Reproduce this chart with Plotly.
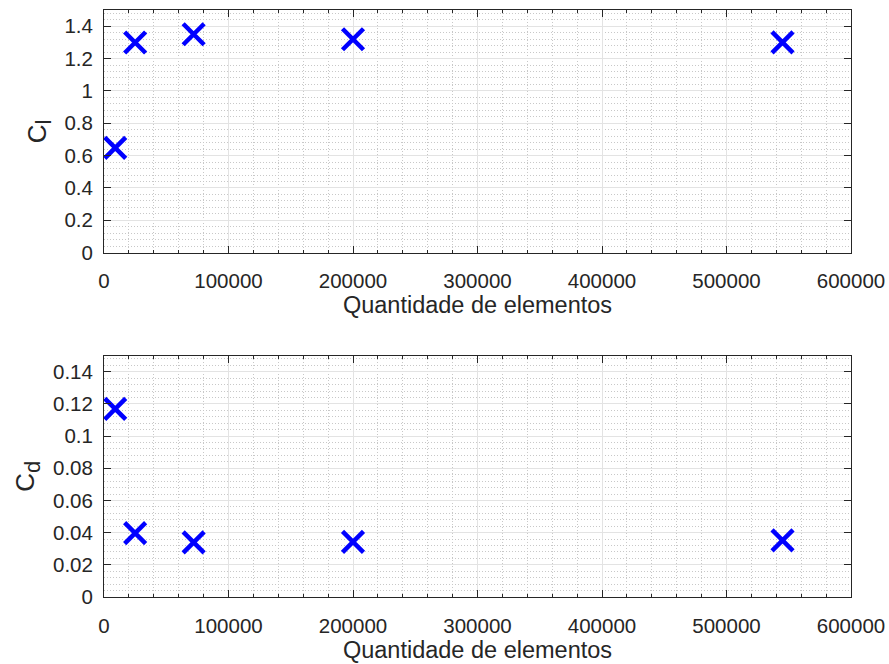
import plotly.graph_objects as go

elements = [9000, 25000, 72000, 200000, 545000]
cl_values = [0.648, 1.299, 1.35, 1.319, 1.30]
cd_values = [0.1169, 0.0397, 0.0340, 0.0343, 0.0352]

x_label = "Quantidade de elementos"
y_label_top = "C<sub><span style='font-size:22px'>l</span></sub>"
y_label_bot = "C<sub><span style='font-size:22px'>d</span></sub>"

FONT = "Liberation Sans, Arial, Helvetica, sans-serif"
AX = "#262626"
GRID = "#e3e3e3"
MINOR = "#c8c8c8"
BLUE = "#0000ff"

fig = go.Figure()
marker = dict(symbol="x-thin", size=21, color=BLUE, line=dict(color=BLUE, width=4.5))
fig.add_trace(go.Scatter(x=elements, y=cl_values, mode="markers", marker=marker,
                         xaxis="x", yaxis="y", showlegend=False))
fig.add_trace(go.Scatter(x=elements, y=cd_values, mode="markers", marker=marker,
                         xaxis="x2", yaxis="y2", showlegend=False))

def xaxis_def(anchor):
    return dict(
        anchor=anchor, domain=[0, 1], range=[0, 600000], dtick=100000, tick0=0,
        tickformat="d", ticks="inside", ticklen=7, tickcolor=AX, tickwidth=1,
        showline=True, linecolor=AX, linewidth=1, mirror="allticks",
        showgrid=True, gridcolor=GRID, gridwidth=1, zeroline=False,
        tickfont=dict(family=FONT, size=20.5, color=AX), ticklabelstandoff=10,
        title=dict(text=x_label, font=dict(family=FONT, size=23.5, color=AX), standoff=3),
        minor=dict(dtick=20000, tick0=0, ticks="inside", ticklen=3, tickcolor=AX,
                   showgrid=True, griddash="1px,2px", gridcolor=MINOR, gridwidth=1),
        automargin=False, fixedrange=True,
    )

def yaxis_def(anchor, domain, rng, dtick, minor_dtick, title):
    return dict(
        anchor=anchor, domain=domain, range=rng, dtick=dtick, tick0=0,
        ticks="inside", ticklen=7, tickcolor=AX, tickwidth=1,
        showline=True, linecolor=AX, linewidth=1, mirror="allticks",
        showgrid=True, gridcolor=GRID, gridwidth=1, zeroline=False,
        tickfont=dict(family=FONT, size=20.5, color=AX), ticklabelstandoff=6,
        title=dict(text=title, font=dict(family=FONT, size=26, color=AX), standoff=10),
        minor=dict(dtick=minor_dtick, tick0=0, ticks="",
                   showgrid=True, griddash="1px,2px", gridcolor=MINOR, gridwidth=1),
        automargin=False, fixedrange=True,
    )

fig.update_layout(
    width=889, height=664,
    margin=dict(l=104, r=38, t=10, b=67, autoexpand=False),
    paper_bgcolor="white", plot_bgcolor="white",
    xaxis=xaxis_def("y"),
    yaxis=yaxis_def("x", [0.5866, 1.0], [0, 1.5], 0.2, 0.04, y_label_top),
    xaxis2=xaxis_def("y2"),
    yaxis2=yaxis_def("x2", [0.0, 0.4111], [0, 0.15], 0.02, 0.004, y_label_bot),
    font=dict(family=FONT, color=AX),
)

fig.write_html("out.html")
